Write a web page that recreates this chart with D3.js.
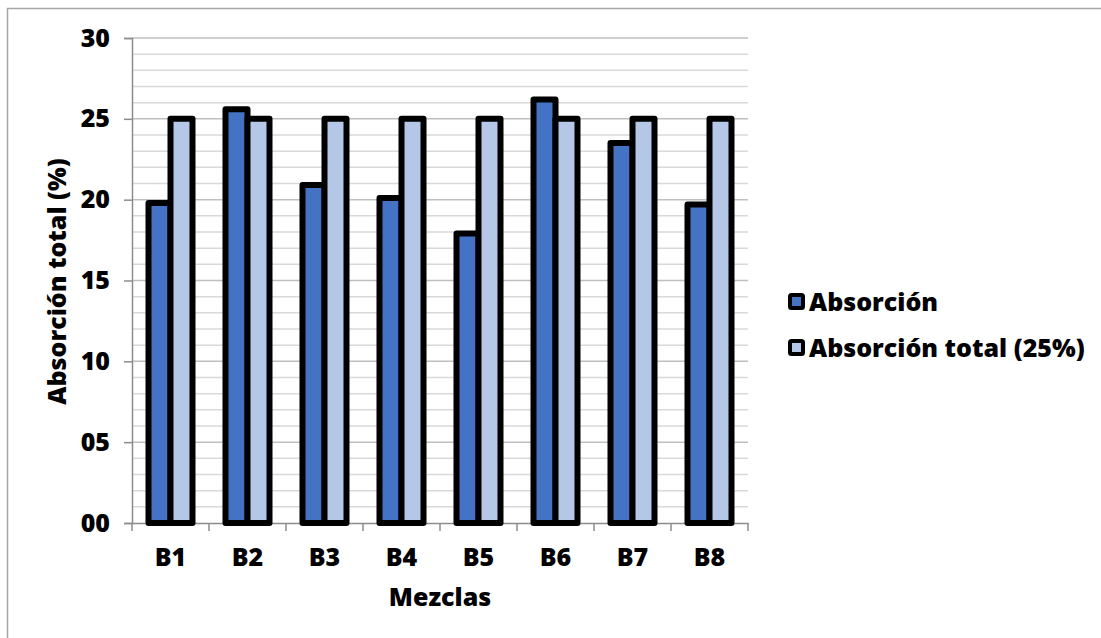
<!DOCTYPE html>
<html>
<head>
<meta charset="utf-8">
<script src="https://cdn.jsdelivr.net/npm/d3@7"></script>
<style>
  html, body { margin: 0; padding: 0; background: #fff; }
  svg { display: block; }
  text { font-family: "Open Sans", "Noto Sans", sans-serif; font-weight: 800; fill: #000; }
</style>
</head>
<body>
<svg id="chart" width="1101" height="638"></svg>
<script>
const categories = ["B1", "B2", "B3", "B4", "B5", "B6", "B7", "B8"];
const seriesNames = ["Absorción", "Absorción total (25%)"];
const absorcion = [19.8, 25.6, 20.9, 20.1, 17.9, 26.2, 23.5, 19.7];
const absorcionTotal = [25, 25, 25, 25, 25, 25, 25, 25];
const yTicks = [0, 5, 10, 15, 20, 25, 30];
const colors = ["#4472c4", "#b4c7e7"];

(function () {
const svg = d3.select("#chart");
const FS = 25;

svg.append("rect").attr("x", 7.5).attr("y", 8.5).attr("width", 1200).attr("height", 700)
  .attr("fill", "#fff").attr("stroke", "#a6a6a6").attr("stroke-width", 1.5);

const pL = 132, pR = 748, pT = 38, pB = 523;
const y = d3.scaleLinear().domain([0, 30]).range([pB, pT]);
const x = d3.scaleBand().domain(categories).range([pL, pR]);
const groupW = 44;
const x1 = d3.scaleBand().domain(seriesNames).range([0, groupW]);

const minor = d3.range(1, 31).filter(v => v % 5 !== 0);
svg.append("g").selectAll("line").data(minor).join("line")
  .attr("x1", pL).attr("x2", pR)
  .attr("y1", d => y(d)).attr("y2", d => y(d))
  .attr("stroke", "#d9d9d9").attr("stroke-width", 1.5);
svg.append("g").selectAll("line").data(yTicks.filter(v => v > 0)).join("line")
  .attr("x1", pL).attr("x2", pR)
  .attr("y1", d => y(d)).attr("y2", d => y(d))
  .attr("stroke", "#bfbfbf").attr("stroke-width", 1.5);

const yAxis = d3.axisLeft(y).tickValues(yTicks).tickSize(8).tickPadding(14)
  .tickFormat(d3.format("02d"));
const gy = svg.append("g").attr("transform", `translate(${pL},0)`).call(yAxis);
gy.select(".domain").attr("stroke", "#8c8c8c").attr("stroke-width", 1.5);
gy.selectAll(".tick line").attr("stroke", "#8c8c8c").attr("stroke-width", 1.5);
gy.selectAll(".tick text").attr("font-size", FS).attr("font-family", "Open Sans").attr("font-weight", 800).attr("fill", "#000");

const gx = svg.append("g").attr("transform", `translate(0,${pB})`)
  .call(d3.axisBottom(x).tickSize(0).tickPadding(25));
gx.select(".domain").attr("stroke", "#8c8c8c").attr("stroke-width", 1.5);
gx.selectAll(".tick text").attr("font-size", FS).attr("font-family", "Open Sans").attr("font-weight", 800).attr("fill", "#000");
const bounds = categories.map(c => x(c)).concat([x(categories[categories.length - 1]) + x.bandwidth()]);
svg.append("g").selectAll("line").data(bounds).join("line")
  .attr("x1", d => d).attr("x2", d => d)
  .attr("y1", pB).attr("y2", pB + 8)
  .attr("stroke", "#8c8c8c").attr("stroke-width", 1.5);

const data = categories.map((c, i) => ({ cat: c, vals: [absorcion[i], absorcionTotal[i]] }));
const groups = svg.append("g").selectAll("g").data(data).join("g")
  .attr("transform", d => `translate(${x(d.cat) + (x.bandwidth() - groupW) / 2},0)`);
groups.selectAll("rect").data(d => d.vals.map((v, j) => ({ name: seriesNames[j], v, j }))).join("rect")
  .attr("x", d => x1(d.name))
  .attr("width", x1.bandwidth())
  .attr("y", d => y(d.v))
  .attr("height", d => y(0) - y(d.v))
  .attr("fill", d => colors[d.j])
  .attr("stroke", "#000").attr("stroke-width", 6).attr("stroke-linejoin", "round");

svg.append("text").attr("x", x(categories[3]) + x.bandwidth()).attr("y", 606)
  .attr("text-anchor", "middle").attr("font-size", FS).text("Mezclas");
svg.append("text").attr("transform", `translate(57,${(pT + pB) / 2 + 1}) rotate(-90)`)
  .attr("text-anchor", "middle").attr("dy", "0.35em").attr("font-size", FS).text("Absorción total (%)");

const legend = svg.append("g").attr("transform", "translate(790,0)");
const legY = [302, 348];
seriesNames.forEach((n, i) => {
  legend.append("rect").attr("x", 0).attr("y", legY[i] - 7).attr("width", 13).attr("height", 13)
    .attr("fill", colors[i]).attr("stroke", "#000").attr("stroke-width", 4).attr("rx", 1.5);
  legend.append("text").attr("x", 19).attr("y", legY[i]).attr("dy", "0.35em")
    .attr("font-size", FS).text(n);
});
})();
</script>
</body>
</html>
